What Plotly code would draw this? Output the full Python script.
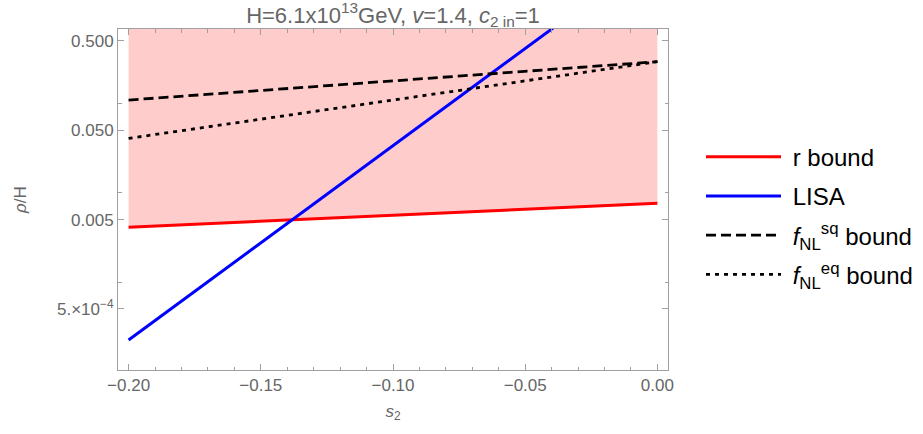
import plotly.graph_objects as go

# ---- data ----
s2 = [-0.20, -0.15, -0.10, -0.05, 0.00]
r_bound = [0.0041, 0.00479, 0.00559, 0.00653, 0.00762]
lisa = [2.24e-4, 2.75e-3, 0.0337, 0.412, 5.05]
fnl_sq = [0.109, 0.1396, 0.179, 0.229, 0.293]
fnl_eq = [0.0406, 0.0666, 0.109, 0.179, 0.293]
fill_top = [10, 10, 10, 10, 10]

x_tickvals = [-0.20, -0.15, -0.10, -0.05, 0.00]
x_ticktext = ["\u22120.20", "\u22120.15", "\u22120.10", "\u22120.05", "0.00"]
y_tickvals = [5e-4, 5e-3, 5e-2, 0.5]
y_ticktext = ["5.\u00d710<sup>\u22124</sup>", "0.005", "0.050", "0.500"]
y_minor = [1e-4, 1e-3, 1e-2, 1e-1]

FONT = "Liberation Sans, Arial, sans-serif"
GRAY_TXT = "#666666"
AXIS = "#a0a0a0"
NB = "\u00a0"

fig = go.Figure()
# allowed (pink) region between the r bound and the top of the plot
fig.add_trace(go.Scatter(x=s2, y=fill_top, mode="lines", line=dict(width=0),
                         showlegend=False, hoverinfo="skip"))
fig.add_trace(go.Scatter(x=s2, y=r_bound, mode="lines", line=dict(width=0),
                         fill="tonexty", fillcolor="rgb(255,204,204)",
                         showlegend=False, hoverinfo="skip"))
fig.add_trace(go.Scatter(x=s2, y=r_bound, mode="lines", name=NB + "r bound",
                         line=dict(color="rgb(255,0,0)", width=3),
                         legendgroup="a"))
fig.add_trace(go.Scatter(x=s2, y=lisa, mode="lines", name=NB + "LISA",
                         line=dict(color="rgb(0,0,255)", width=3),
                         legendgroup="b"))
fig.add_trace(go.Scatter(x=s2, y=fnl_sq, mode="lines",
                         name=NB + "<i>f</i><sub>NL</sub><sup>sq</sup> bound",
                         line=dict(color="black", width=2.8, dash="10px,5px"),
                         legendgroup="c"))
fig.add_trace(go.Scatter(x=s2, y=fnl_eq, mode="lines",
                         name=NB + "<i>f</i><sub>NL</sub><sup>eq</sup> bound",
                         line=dict(color="black", width=2.8, dash="4px,5px"),
                         legendgroup="d"))

fig.update_layout(
    width=923, height=434,
    margin=dict(l=118, r=923 - 668, t=29, b=434 - 370, autoexpand=False),
    paper_bgcolor="white", plot_bgcolor="white",
    font=dict(family=FONT, color=GRAY_TXT, size=17),
    title=dict(text="H=6.1x10<sup>13</sup>GeV, <i>v</i>=1.4, <i>c</i><sub>2 in</sub>=1",
               x=(118 + 668) / 2 / 923, xanchor="center", y=1 - 15 / 434, yanchor="middle",
               font=dict(size=22, color=GRAY_TXT, family=FONT)),
    legend=dict(x=1.06, xanchor="left", y=0.69, yanchor="top",
                font=dict(size=24, color="black", family=FONT),
                traceorder="grouped", tracegroupgap=5, itemwidth=75,
                bgcolor="rgba(0,0,0,0)"),
    showlegend=True,
)

fig.update_xaxes(
    range=[-0.204, 0.004], showgrid=False, zeroline=False,
    showline=True, linecolor=AXIS, linewidth=1, mirror="ticks",
    ticks="inside", ticklen=6, tickcolor=AXIS, tickwidth=1,
    tickmode="array", tickvals=x_tickvals, ticktext=x_ticktext,
    tickfont=dict(size=17, color=GRAY_TXT),
    minor=dict(ticks="inside", ticklen=3.5, tickcolor=AXIS, dtick=0.01, tick0=0, showgrid=False),
    title=dict(text="<i>s</i><sub>2</sub>", standoff=10, font=dict(size=17, color=GRAY_TXT)),
)
fig.update_yaxes(
    type="log", range=[-3.985, -0.167], showgrid=False, zeroline=False,
    showline=True, linecolor=AXIS, linewidth=1, mirror="ticks",
    ticks="inside", ticklen=6, tickcolor=AXIS, tickwidth=1,
    tickmode="array", tickvals=y_tickvals, ticktext=y_ticktext,
    tickfont=dict(size=17, color=GRAY_TXT),
    minor=dict(ticks="inside", ticklen=3.5, tickcolor=AXIS, tickmode="array", tickvals=y_minor, showgrid=False),
    title=dict(text="<i>\u03c1</i>/H", standoff=26, font=dict(size=17, color=GRAY_TXT)),
)

fig.write_html("out.html", config={"displayModeBar": False},
               post_script="document.body.style.margin='0px';")
